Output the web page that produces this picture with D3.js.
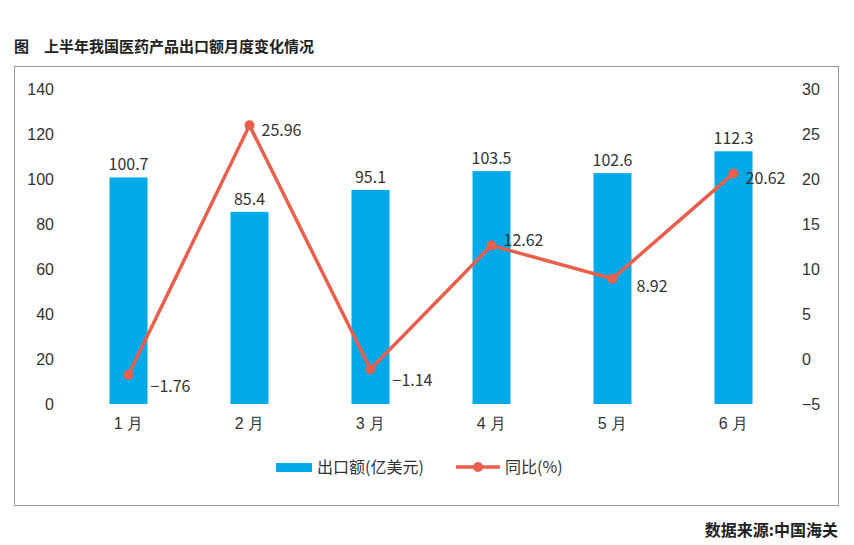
<!DOCTYPE html>
<html><head><meta charset="utf-8">
<script src="https://cdn.jsdelivr.net/npm/d3@7"></script>
<style>body{margin:0;background:#fff}svg{font-family:"Noto Sans CJK SC","Noto Sans",sans-serif}</style>
</head><body>
<svg id="c" width="854" height="545"></svg>
<script>
const categories=["1 月","2 月","3 月","4 月","5 月","6 月"];
const exportValues=[100.7,85.4,95.1,103.5,102.6,112.3];
const yoyValues=[-1.76,25.96,-1.14,12.62,8.92,20.62];
const leftTicks=[0,20,40,60,80,100,120,140];
const rightTicks=[-5,0,5,10,15,20,25,30];
const barColor="#00a9e8", lineColor="#e8604c", textColor="#333";
const svg=d3.select("#c");
svg.append("text").attr("x",14).attr("y",52).attr("font-size",15).attr("font-weight","bold").attr("fill","#222").text("图　上半年我国医药产品出口额月度变化情况");
svg.append("rect").attr("x",14.5).attr("y",66.5).attr("width",824).attr("height",439).attr("fill","none").attr("stroke","#999");
const x=d3.scaleBand().domain(categories).range([68,794]);
const yL=d3.scaleLinear().domain([0,140]).range([404,89]);
const yR=d3.scaleLinear().domain([-5,30]).range([404,89]);
const fs=16;
const gl=svg.append("g").attr("transform","translate(68,0)").call(d3.axisLeft(yL).tickValues(leftTicks).tickSize(0).tickPadding(14));
const gr=svg.append("g").attr("transform","translate(794,0)").call(d3.axisRight(yR).tickValues(rightTicks).tickSize(0).tickPadding(8).tickFormat(d=>d<0?"−"+(-d):d));
const gb=svg.append("g").attr("transform","translate(0,404)").call(d3.axisBottom(x).tickSize(0).tickPadding(14));
[gl,gr,gb].forEach(g=>{g.select(".domain").remove();g.selectAll("text").attr("font-size",fs).attr("fill",textColor);});
const bw=38;
svg.selectAll(".bar").data(exportValues).join("rect").attr("fill",barColor)
 .attr("x",(d,i)=>x(categories[i])+x.bandwidth()/2-bw/2).attr("width",bw)
 .attr("y",d=>yL(d)).attr("height",d=>404-yL(d));
svg.selectAll(".bl").data(exportValues).join("text").attr("text-anchor","middle").attr("font-size",fs).attr("fill",textColor)
 .attr("x",(d,i)=>x(categories[i])+x.bandwidth()/2).attr("y",d=>yL(d)-7).text(d=>d);
const cx=i=>x(categories[i])+x.bandwidth()/2;
svg.append("path").datum(yoyValues).attr("fill","none").attr("stroke",lineColor).attr("stroke-width",3.5)
 .attr("d",d3.line().x((d,i)=>cx(i)).y(d=>yR(d)));
svg.selectAll(".pt").data(yoyValues).join("circle").attr("r",5).attr("fill",lineColor)
 .attr("cx",(d,i)=>cx(i)).attr("cy",d=>yR(d));
const off=[[22,12],[12,6],[22,12],[12,-4],[24,8],[12,6]];
svg.selectAll(".ll").data(yoyValues).join("text").attr("font-size",fs).attr("fill",textColor)
 .attr("x",(d,i)=>cx(i)+off[i][0]).attr("y",(d,i)=>yR(d)+off[i][1]+5).text(d=>d<0?"−"+(-d):d);
// legend
svg.append("rect").attr("x",276).attr("y",463).attr("width",36).attr("height",9).attr("fill",barColor);
svg.append("text").attr("x",317).attr("y",473).attr("font-size",fs).attr("fill",textColor).text("出口额(亿美元)");
svg.append("line").attr("x1",456).attr("x2",500).attr("y1",467).attr("y2",467).attr("stroke",lineColor).attr("stroke-width",3.5);
svg.append("circle").attr("cx",478).attr("cy",467).attr("r",5).attr("fill",lineColor);
svg.append("text").attr("x",505).attr("y",473).attr("font-size",fs).attr("fill",textColor).text("同比(%)");
svg.append("text").attr("x",838).attr("y",536).attr("text-anchor","end").attr("font-size",16).attr("font-weight","bold").attr("fill","#222").text("数据来源:中国海关");
</script></body></html>
